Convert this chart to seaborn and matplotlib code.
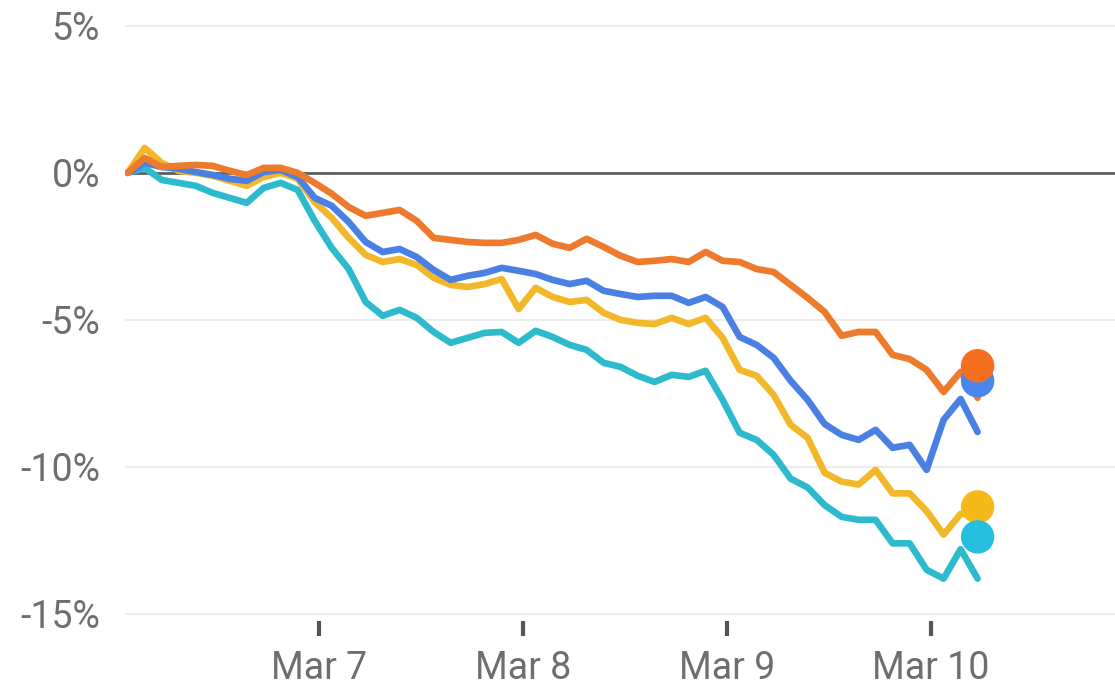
import matplotlib
matplotlib.use("Agg")
import matplotlib.pyplot as plt
import seaborn as sns
import pandas as pd
import numpy as np

# two-hourly readings, Mar 6 01:30 -> Mar 10 05:30
tiempos = pd.date_range("2020-03-06 01:30", periods=51, freq="2h")

naranja = [0.00, 0.51, 0.20, 0.24, 0.27, 0.24, 0.07, -0.07, 0.17, 0.17,
           0.00, -0.34, -0.71, -1.16, -1.46, -1.36, -1.26, -1.63, -2.21, -2.28,
           -2.35, -2.38, -2.38, -2.28, -2.11, -2.41, -2.55, -2.24, -2.52, -2.82,
           -3.03, -2.99, -2.93, -3.03, -2.69, -2.99, -3.03, -3.27, -3.37, -3.81,
           -4.25, -4.73, -5.54, -5.41, -5.41, -6.19, -6.33, -6.70, -7.45, -6.77,
           -7.65]
azul = [0.00, 0.34, 0.20, 0.14, 0.03, -0.07, -0.20, -0.27, 0.03, 0.10,
        -0.14, -0.85, -1.12, -1.67, -2.35, -2.69, -2.59, -2.86, -3.30, -3.64,
        -3.50, -3.40, -3.23, -3.33, -3.44, -3.64, -3.78, -3.67, -4.01, -4.12,
        -4.22, -4.18, -4.18, -4.42, -4.22, -4.56, -5.58, -5.85, -6.29, -7.07,
        -7.72, -8.54, -8.91, -9.08, -8.74, -9.35, -9.25, -10.10, -8.40, -7.69,
        -8.81]
amarillo = [0.00, 0.85, 0.34, 0.07, 0.00, -0.10, -0.27, -0.44, -0.14, 0.00,
            -0.20, -0.99, -1.53, -2.21, -2.79, -3.03, -2.93, -3.13, -3.57, -3.81,
            -3.88, -3.78, -3.61, -4.63, -3.91, -4.22, -4.39, -4.32, -4.76, -5.00,
            -5.10, -5.14, -4.93, -5.14, -4.93, -5.61, -6.70, -6.90, -7.55, -8.57,
            -9.01, -10.20, -10.50, -10.60, -10.10, -10.90, -10.90, -11.50, -12.30, -11.60,
            -11.60]
cian = [0.00, 0.17, -0.24, -0.34, -0.44, -0.68, -0.85, -1.02, -0.51, -0.34,
        -0.58, -1.63, -2.55, -3.27, -4.39, -4.86, -4.66, -4.93, -5.41, -5.78,
        -5.61, -5.44, -5.41, -5.78, -5.37, -5.58, -5.85, -6.02, -6.46, -6.60,
        -6.90, -7.11, -6.87, -6.94, -6.73, -7.72, -8.84, -9.08, -9.59, -10.40,
        -10.70, -11.30, -11.70, -11.80, -11.80, -12.60, -12.60, -13.50, -13.80, -12.80,
        -13.80]

# current value markers shown at the right end
series = ["cian", "amarillo", "azul", "naranja"]
ultimo = {"naranja": -6.56, "azul": -7.07, "amarillo": -11.36, "cian": -12.38}
colores = {"naranja": "#EE7A2E", "azul": "#4A80E4", "amarillo": "#F2B82A", "cian": "#2DBACD"}
colores_punto = {"naranja": "#F56F1E", "azul": "#4A86EE", "amarillo": "#F5BA1A", "cian": "#25BEDC"}

yticks = [5, 0, -5, -10, -15]
ytick_labels = ["5%", "0%", "-5%", "-10%", "-15%"]
xticks = pd.to_datetime(["2020-03-07", "2020-03-08", "2020-03-09", "2020-03-10"])
xtick_labels = ["Mar 7", "Mar 8", "Mar 9", "Mar 10"]

df = pd.DataFrame({"tiempo": tiempos, "naranja": naranja, "azul": azul,
                   "amarillo": amarillo, "cian": cian})
largo = df.melt(id_vars="tiempo", var_name="serie", value_name="cambio")

sns.set_theme(style="white")
plt.rcParams["font.family"] = ["Roboto", "DejaVu Sans"]

fig = plt.figure(figsize=(11.15, 6.96), dpi=100)
ax = fig.add_axes([0.112, 0.1078, 0.888, 0.8922])

ax.yaxis.grid(True, color="#EDEDED", linewidth=1.6)
ax.set_axisbelow(True)
ax.axhline(0, color="#5E5E5E", linewidth=2, zorder=1.5)

sns.lineplot(data=largo, x="tiempo", y="cambio", hue="serie", hue_order=series,
             palette=colores, linewidth=4.8, legend=False, ax=ax,
             solid_joinstyle="round", solid_capstyle="round", zorder=3)

fin = tiempos[-1]
for s in ["azul", "amarillo", "cian", "naranja"]:
    ax.scatter([fin], [ultimo[s]], s=580, color=colores_punto[s], zorder=5,
               edgecolors="none")

ax.set_ylim(-15.24, 5.88)
ax.set_xlim(pd.Timestamp("2020-03-06 01:10"), pd.Timestamp("2020-03-10 21:40"))
ax.set_yticks(yticks)
ax.set_yticklabels(ytick_labels)
ax.set_xticks(xticks)
ax.set_xticklabels(xtick_labels)

for sp in ax.spines.values():
    sp.set_visible(False)

ax.tick_params(axis="y", length=0, pad=18, labelsize=27, labelcolor="#6E6E6E")
ax.tick_params(axis="x", direction="out", length=11, width=3, color="#555555",
               pad=10, labelsize=27, labelcolor="#6E6E6E", bottom=True)
ax.set_xlabel("")
ax.set_ylabel("")

plt.savefig("out.png", dpi=100)
plt.close()
